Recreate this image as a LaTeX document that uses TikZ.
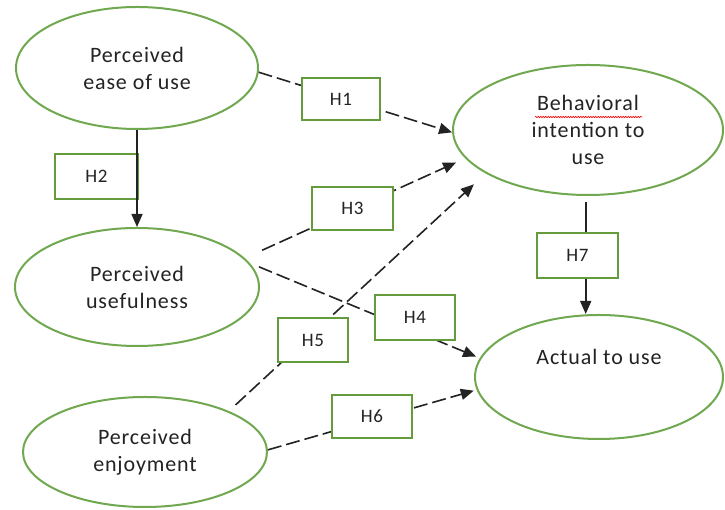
\documentclass[tikz,border=0pt]{standalone}
\usepackage{fontspec}
\setmainfont{Carlito}[LetterSpace=4]
\usetikzlibrary{arrows.meta,shapes.geometric,decorations.pathmorphing,calc}
\definecolor{egreen}{RGB}{112,168,80}
\definecolor{bgreen}{RGB}{100,155,60}
\definecolor{ink}{RGB}{35,35,35}
\begin{document}
\begin{tikzpicture}[x=1pt,y=1pt,
  oval/.style={ellipse, draw=egreen, line width=2pt, fill=white, inner sep=0pt, align=center, text=ink, font=\fontsize{22}{27}\selectfont},
  ovaltext/.style={text=ink, inner sep=0pt, font=\fontsize{22}{27}\selectfont},
  hbox/.style={rectangle, draw=bgreen, line width=2.4pt, fill=white, inner sep=0pt, text=ink, font=\fontsize{19}{21}\selectfont},
  link/.style={draw=ink, line width=1.6pt, dash pattern=on 14pt off 5pt, -{Triangle[length=13pt,width=11pt]}},
  solidlink/.style={draw=ink, line width=1.6pt, -{Triangle[length=13pt,width=11pt]}},
  squiggle/.style={draw=red, line width=0.6pt, decorate, decoration={snake, amplitude=0.7pt, segment length=2.5pt}}
]
\useasboundingbox (0,0) rectangle (725,510);
\fill[white] (0,0) rectangle (725,510);

% constructs
\node[oval, minimum width=242pt, minimum height=122pt] (peou) at (137,442) {Perceived\\ease of use};
\node[oval, minimum width=244pt, minimum height=118pt] (pu) at (137,223) {Perceived\\usefulness};
\node[oval, minimum width=244pt, minimum height=110pt] (pe) at (145,58) {Perceived\\enjoyment};
\node[oval, minimum width=270pt, minimum height=130pt] (bi) at (588,380) {Behavioral\\intention to\\use};
\node[oval, minimum width=248pt, minimum height=124pt] (au) at (599,133) {};
\node[ovaltext] (autext) at ([yshift=20pt]au.center) {Actual to use};
\draw[squiggle] ($(bi.center)+(-53,13)$) -- ($(bi.center)+(54,13)$);

% connectors
\draw[link] (peou.-2) -- (bi.181);
\draw[link, shorten <=19pt, shorten >=10pt] (pu.15) -- (bi.193);
\draw[link, shorten <=10pt, shorten >=4pt] (pu.12) -- (au.171);
\draw[link, shorten <=9pt, shorten >=16pt] (pe.26) -- (bi.203);
\draw[link, shorten >=3pt] (pe.1) -- (au.186);
\draw[solidlink, shorten <=6pt] (bi.268) -- (bi.268 |- au.north);

% hypothesis boxes
\node[hbox, minimum width=78pt, minimum height=42pt] (h1) at (341,411) {H1};
\node[hbox, minimum width=83pt, minimum height=45pt] (h2) at (96.5,333.5) {H2};
\node[hbox, minimum width=81pt, minimum height=43pt] (h3) at (352.5,301.5) {H3};
\node[hbox, minimum width=80pt, minimum height=45pt] (h4) at (415,192.5) {H4};
\node[hbox, minimum width=70pt, minimum height=44pt] (h5) at (313,170) {H5};
\node[hbox, minimum width=80pt, minimum height=43pt] (h6) at (372,93.5) {H6};
\node[hbox, minimum width=81pt, minimum height=45pt] (h7) at (577.5,254.5) {H7};

\draw[solidlink] (peou.south) -- (pu.north);
\end{tikzpicture}
\end{document}
